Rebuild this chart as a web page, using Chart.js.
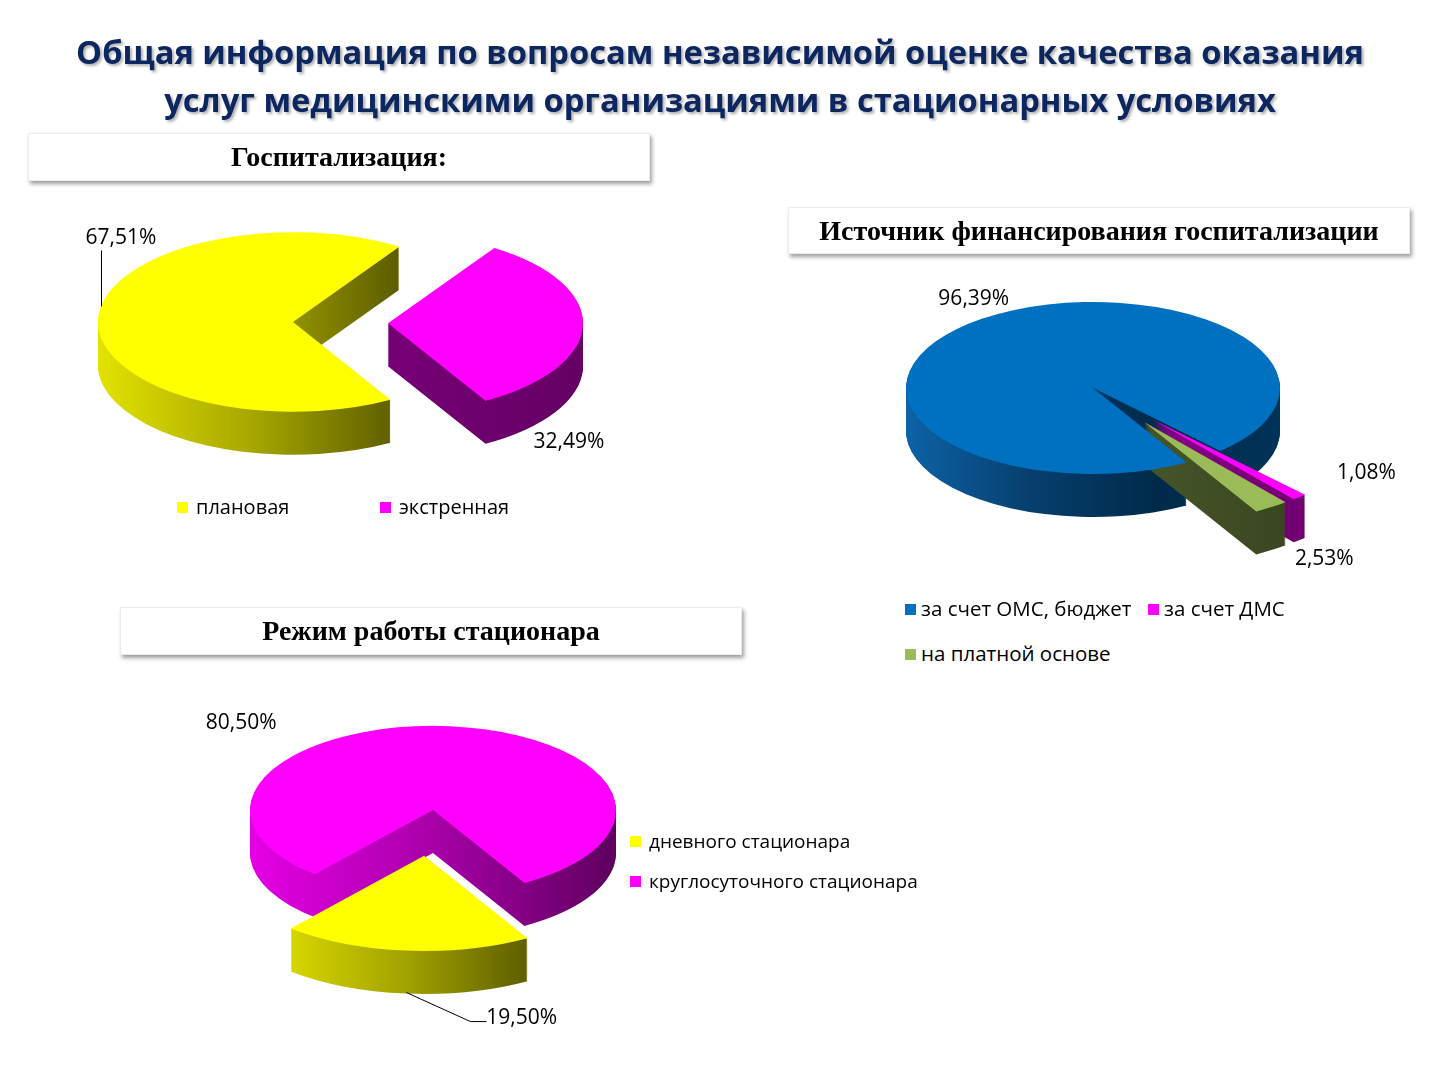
<!DOCTYPE html>
<html lang="ru">
<head>
<meta charset="utf-8">
<title>Независимая оценка качества</title>
<script src="https://cdn.jsdelivr.net/npm/chart.js@4.4.1/dist/chart.umd.min.js"></script>
<style>
  html, body { margin: 0; padding: 0; background: #fff; }
  #page { position: relative; width: 1440px; height: 1080px; overflow: hidden; background: #fff; }
  #title {
    position: absolute; left: 0; top: 28px; width: 1440px;
    text-align: center; font-family: "Open Sans", sans-serif; font-weight: 700;
    font-size: 32.7px; line-height: 48px; color: #0c2660;
    text-shadow: 2px 2px 3px rgba(0, 0, 0, 0.32);
  }
  .box {
    position: absolute; background: #fff; border: 1px solid #ececec;
    box-shadow: 2px 3px 4px rgba(0, 0, 0, 0.38);
    font-family: "Liberation Serif", "Times New Roman", serif; font-weight: 700;
    font-size: 28px; color: #000; text-align: center; box-sizing: border-box;
  }
  canvas { position: absolute; }
  .lg {
    position: absolute; font-family: "Open Sans", sans-serif; font-size: 20px;
    line-height: 24px; color: #000; white-space: nowrap;
  }
  .lg i { display: inline-block; width: 11px; height: 11px; margin-right: 8px; vertical-align: middle; position: relative; top: -1px; }
  .lg.fin { font-size: 20.5px; }
  .lg.fin i { margin-right: 5px; }
  .lg.mode { font-size: 19px; }
</style>
</head>
<body>
<div id="page">
  <canvas id="hospChart" width="700" height="420" style="left:-57px; top:112px;"></canvas>
  <canvas id="finChart" width="640" height="440" style="left:773px; top:168px;"></canvas>
  <canvas id="modeChart" width="700" height="500" style="left:83px; top:560px;"></canvas>

  <div id="title">Общая информация по вопросам независимой оценке качества оказания<br>услуг медицинскими организациями в стационарных условиях</div>
  <div class="box" style="left:28px; top:133px; width:622px; height:48px; line-height:46px;">Госпитализация:</div>
  <div class="box" style="left:788px; top:207px; width:622px; height:47px; line-height:45px;">Источник финансирования госпитализации</div>
  <div class="box" style="left:120px; top:607px; width:622px; height:48px; line-height:46px;">Режим работы стационара</div>
  <div id="legends"></div>
</div>
<script>
// Госпитализация
const hospLabels = ['плановая', 'экстренная'];
const hospValues = [67.51, 32.49];

// Источник финансирования госпитализации
const finLabels = ['за счет ОМС, бюджет', 'за счет ДМС', 'на платной основе'];
const finValues = [96.39, 1.08, 2.53];

// Режим работы стационара
const modeLabels = ['дневного стационара', 'круглосуточного стационара'];
const modeValues = [19.50, 80.50];

const YELLOW = '#FFFF00';
const MAGENTA = '#FF00FF';
const BLUE = '#0070C0';
const GREEN = '#9BBB59';

const fmtPct = (v) => v.toFixed(2).replace('.', ',') + '%';

// экстент сектора по x (для градиента боковой стенки)
const sliceExtent = (arc) => {
  let minX = arc.x, maxX = arc.x;
  for (let k = 0; k <= 32; k++) {
    const a = arc.startAngle + (arc.endAngle - arc.startAngle) * k / 32;
    const x = arc.x + Math.cos(a) * arc.outerRadius;
    minX = Math.min(minX, x);
    maxX = Math.max(maxX, x);
  }
  return [minX, maxX];
};

const centerOf = (chart) => {
  const a = chart.chartArea;
  return { cx: (a.left + a.right) / 2, cy: (a.top + a.bottom) / 2 };
};

// псевдо-3D: наклон, толщина, вынос секторов, «перспектива» передних секторов, подписи
const pie3d = {
  id: 'pie3d',
  afterDatasetsUpdate(chart, args, opts) {
    const meta = chart.getDatasetMeta(0);
    const { cx, cy } = centerOf(chart);
    meta.data.forEach((arc, i) => {
      const e = (opts.explode || [])[i] || 0;
      const mid = (arc.startAngle + arc.endAngle) / 2;
      arc.x = cx + Math.cos(mid) * e;
      arc.y = cy + Math.sin(mid) * e;
      arc.outerRadius = arc.outerRadius * ((opts.scale || [])[i] || 1);
    });
  },
  beforeDatasetsDraw(chart, args, opts) {
    const { ctx } = chart;
    const meta = chart.getDatasetMeta(0);
    const { cx, cy } = centerOf(chart);
    const t = opts.tilt;
    ctx.save();
    ctx.translate(cx, cy);
    ctx.scale(1, t);
    ctx.translate(-cx, -cy);

    const order = meta.data.map((arc, i) => i).sort((i, j) => meta.data[i].y - meta.data[j].y);
    order.forEach((i) => {
      const arc = meta.data[i];
      const [x0, x1] = sliceExtent(arc);
      const g = ctx.createLinearGradient(x0, 0, x1, 0);
      const stops = opts.sides[i];
      stops.forEach((c, k) => g.addColorStop(k / (stops.length - 1), c));
      const side = Object.create(arc);
      side.options = Object.assign({}, arc.options, { backgroundColor: g, borderWidth: 0 });
      for (let d = opts.depth; d >= 1; d--) {
        ctx.save();
        ctx.translate(0, d / t);
        arc.draw.call(side, ctx);
        ctx.restore();
      }
    });
  },
  afterDatasetsDraw(chart) {
    chart.ctx.restore();
  },
  afterDraw(chart, args, opts) {
    const { ctx } = chart;
    const meta = chart.getDatasetMeta(0);
    const values = chart.data.datasets[0].data;
    const { cy } = centerOf(chart);
    const t = opts.tilt;
    ctx.save();
    ctx.font = '21px "Open Sans", sans-serif';
    ctx.fillStyle = '#000';
    ctx.strokeStyle = '#000';
    ctx.lineWidth = 1;
    ctx.textAlign = 'center';
    ctx.textBaseline = 'middle';
    (opts.labels || []).forEach((lab) => {
      const arc = meta.data[lab.i];
      const ang = lab.angle != null ? (lab.angle - 90) * Math.PI / 180 : (arc.startAngle + arc.endAngle) / 2;
      const px = arc.x + Math.cos(ang) * arc.outerRadius;
      const py = cy + (arc.y + Math.sin(ang) * arc.outerRadius - cy) * t;
      if (lab.leader) {
        ctx.beginPath();
        lab.leader.forEach((p, k) => {
          const x = Math.round(px + p[0]) + 0.5, y = py + p[1];
          if (k === 0) ctx.moveTo(x, y); else ctx.lineTo(x, y);
        });
        ctx.stroke();
      }
      ctx.fillText(fmtPct(values[lab.i]), px + lab.dx, py + lab.dy);
    });
    ctx.restore();
  }
};

const makePie = (id, labels, values, colors, radius, p3d) => new Chart(document.getElementById(id), {
  type: 'pie',
  data: {
    labels: labels,
    datasets: [{
      data: values,
      backgroundColor: colors,
      borderWidth: 0,
      clip: false
    }]
  },
  options: {
    responsive: false,
    animation: false,
    events: [],
    rotation: 150,
    radius: radius,
    layout: { padding: 0 },
    plugins: {
      legend: { display: false },
      tooltip: { enabled: false },
      pie3d: p3d
    }
  },
  plugins: [pie3d]
});

makePie('hospChart', hospLabels, hospValues, [YELLOW, MAGENTA], 195, {
  tilt: 0.46,
  depth: 43,
  explode: [0, 95],
  sides: [['#e2e200', '#a8a800', '#5c5c00'], ['#760076', '#640064']],
  labels: [
    { i: 0, angle: 280, dx: 20, dy: -68, leader: [[0, 0], [0, -56]] },
    { i: 1, dx: -14, dy: 116 }
  ]
});

makePie('finChart', finLabels, finValues, [BLUE, MAGENTA, GREEN], 187, {
  tilt: 0.46,
  depth: 43,
  explode: [0, 90, 90],
  scale: [1, 1.2, 1.2],
  sides: [['#0d62a6', '#063f6e', '#002a4a', '#003358'], ['#8a008a', '#700070'], ['#46552a', '#3a4620']],
  labels: [
    { i: 0, dx: -8, dy: -20 },
    { i: 1, dx: 67, dy: -24 },
    { i: 2, dx: 53, dy: 52 }
  ]
});

makePie('modeChart', modeLabels, modeValues, [YELLOW, MAGENTA], 183, {
  tilt: 0.46,
  depth: 43,
  explode: [100, 0],
  scale: [1.13, 1],
  sides: [['#d6d600', '#a0a000', '#5e5e00'], ['#e400e4', '#a800a8', '#5e005e']],
  labels: [
    { i: 0, dx: 116, dy: 67, leader: [[0, 42], [64, 71], [80, 71]] },
    { i: 1, dx: -208, dy: -3 }
  ]
});

// легенды (HTML), позиции квадратиков
const legendHost = document.getElementById('legends');
const addLegend = (labels, colors, spots, cls) => {
  labels.forEach((text, i) => {
    const el = document.createElement('div');
    el.className = 'lg ' + cls;
    el.style.left = spots[i][0] + 'px';
    el.style.top = (spots[i][1] - 6) + 'px';
    const sq = document.createElement('i');
    sq.style.background = colors[i];
    el.appendChild(sq);
    el.appendChild(document.createTextNode(text));
    legendHost.appendChild(el);
  });
};
addLegend(hospLabels, [YELLOW, MAGENTA], [[177, 501], [380, 501]], 'hosp');
addLegend(finLabels, [BLUE, MAGENTA, GREEN], [[905, 602], [1148, 602], [905, 647]], 'fin');
addLegend(modeLabels, [YELLOW, MAGENTA], [[630, 835], [630, 875]], 'mode');
</script>
</body>
</html>
